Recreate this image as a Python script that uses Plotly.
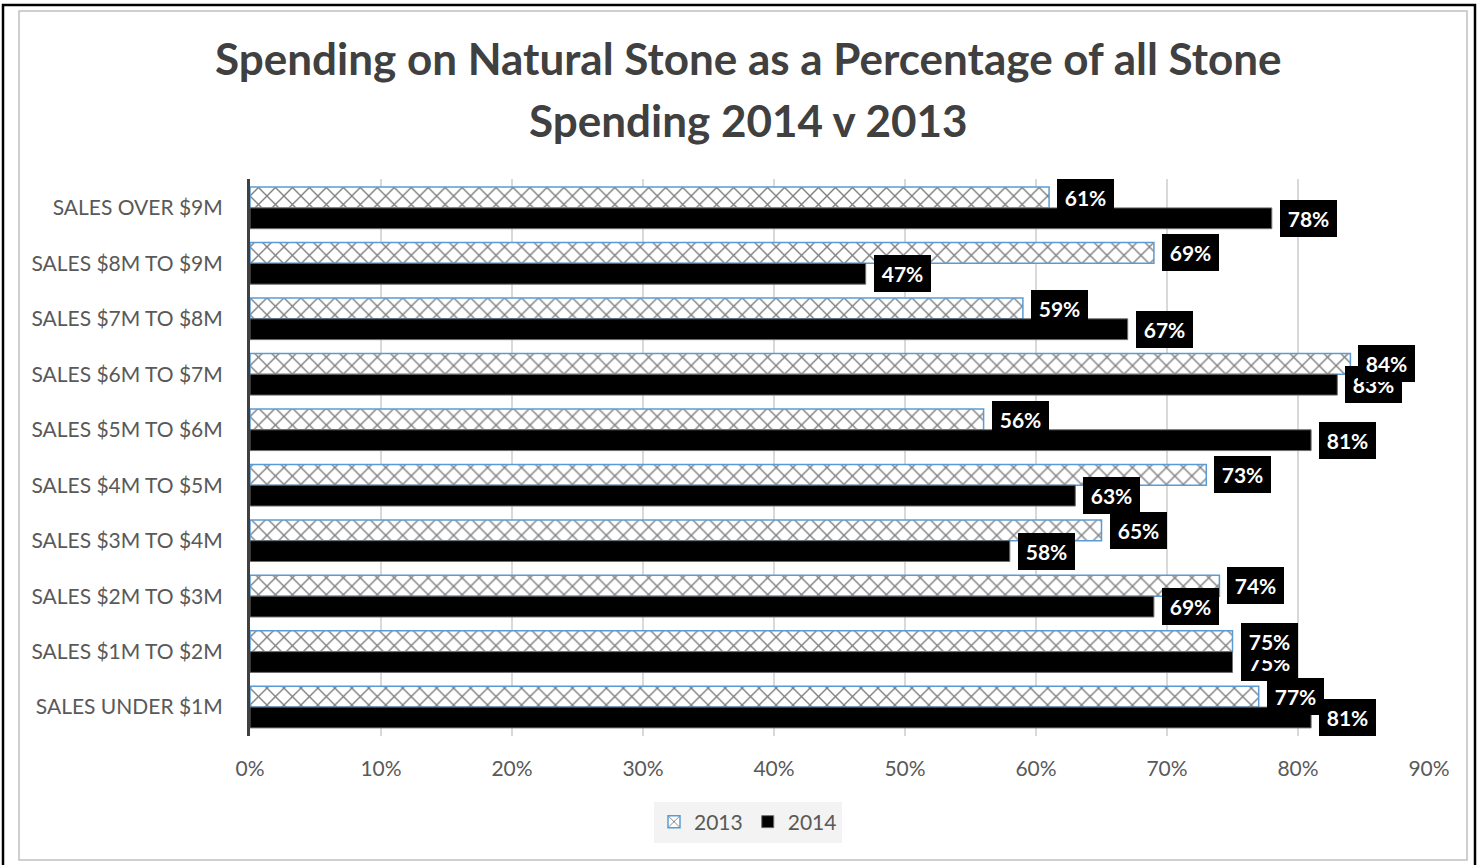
import plotly.graph_objects as go

# ---- data -------------------------------------------------------------
categories = [
    "SALES OVER $9M",
    "SALES $8M TO $9M",
    "SALES $7M TO $8M",
    "SALES $6M TO $7M",
    "SALES $5M TO $6M",
    "SALES $4M TO $5M",
    "SALES $3M TO $4M",
    "SALES $2M TO $3M",
    "SALES $1M TO $2M",
    "SALES UNDER $1M",
]
pct_2013 = [61, 69, 59, 84, 56, 73, 65, 74, 75, 77]
pct_2014 = [78, 47, 67, 83, 81, 63, 58, 69, 75, 81]
x_ticks = [0, 10, 20, 30, 40, 50, 60, 70, 80, 90]
x_tick_labels = [f"{t}%" for t in x_ticks]

title_lines = [
    "Spending on Natural Stone as a Percentage of all Stone",
    "Spending 2014 v 2013",
]

# ---- geometry ---------------------------------------------------------
W, H = 1481, 865
ML, MR, MT, MB = 250, 52, 179, 129
PW, PH = W - ML - MR, H - MT - MB
BARGAP = 0.25
FONT = "Lato"


def px_x(px):
    return (px - ML) / PW


def px_y(py):
    return (H - MB - py) / PH


fig = go.Figure()

fig.add_trace(go.Bar(
    name="2013",
    y=categories,
    x=pct_2013,
    orientation="h",
    marker=dict(
        color="white",
        line=dict(color="#5B9BD5", width=1.5),
        pattern=dict(shape="x", fgcolor="black", bgcolor="white",
                     size=12, solidity=0.22),
    ),
))
fig.add_trace(go.Bar(
    name="2014",
    y=categories,
    x=pct_2014,
    orientation="h",
    marker=dict(color="black", line=dict(color="#6f6f6f", width=1)),
))

# ---- value labels (black boxes, white bold text) ----------------------
bar_w = (1 - BARGAP) / 2
annotations = []
for series, off in ((pct_2014, bar_w / 2), (pct_2013, -bar_w / 2)):
    for i, v in enumerate(series):
        annotations.append(dict(
            x=v, y=i + off, xref="x", yref="y",
            text=f"<b>{v}%</b>", showarrow=False,
            xanchor="left", yanchor="middle", xshift=8,
            font=dict(family=FONT, size=21, color="white"),
            bgcolor="black", borderwidth=0, borderpad=0,
            width=57, height=37, align="center",
        ))

# ---- title ------------------------------------------------------------
for line, cy in zip(title_lines, (58, 120)):
    annotations.append(dict(
        x=px_x(748), y=px_y(cy), xref="paper", yref="paper",
        text=f"<b>{line}</b>", showarrow=False,
        xanchor="center", yanchor="middle",
        font=dict(family=FONT, size=44, color="#404040"),
    ))

# ---- chart frames -----------------------------------------------------
shapes = [
    dict(type="rect", xref="paper", yref="paper",
         x0=px_x(19), x1=px_x(1467), y0=px_y(860), y1=px_y(11),
         line=dict(color="#c0c0c0", width=1.5), fillcolor="rgba(0,0,0,0)",
         layer="below"),
    dict(type="rect", xref="paper", yref="paper",
         x0=px_x(3), x1=px_x(1475), y0=px_y(870), y1=px_y(5),
         line=dict(color="black", width=2.5), fillcolor="rgba(0,0,0,0)",
         layer="below"),
]

fig.update_layout(
    width=W, height=H,
    margin=dict(l=ML, r=MR, t=MT, b=MB, pad=0),
    paper_bgcolor="white", plot_bgcolor="white",
    barmode="group", bargap=BARGAP, bargroupgap=0,
    font=dict(family=FONT, size=21, color="#595959"),
    showlegend=True,
    legend=dict(
        orientation="h", x=px_x(748), y=px_y(822),
        xanchor="center", yanchor="middle",
        bgcolor="#f3f3f3", font=dict(family=FONT, size=21, color="#595959"),
        itemwidth=30, traceorder="normal",
    ),
    annotations=annotations,
    shapes=shapes,
)

fig.update_xaxes(
    range=[0, 90], tickmode="array", tickvals=x_ticks, ticktext=x_tick_labels,
    showgrid=True, gridcolor="#d9d9d9", gridwidth=2,
    zeroline=False, showline=False, ticks="",
    ticklabelstandoff=18,
    tickfont=dict(family=FONT, size=21, color="#595959"),
    fixedrange=True,
)
fig.update_yaxes(
    type="category", autorange="reversed",
    showgrid=False, zeroline=False,
    showline=True, linecolor="#404040", linewidth=3,
    ticks="", ticklabelstandoff=20,
    tickfont=dict(family=FONT, size=21, color="#595959"),
    fixedrange=True,
)

fig.write_html("out.html", config={"displayModeBar": False})
